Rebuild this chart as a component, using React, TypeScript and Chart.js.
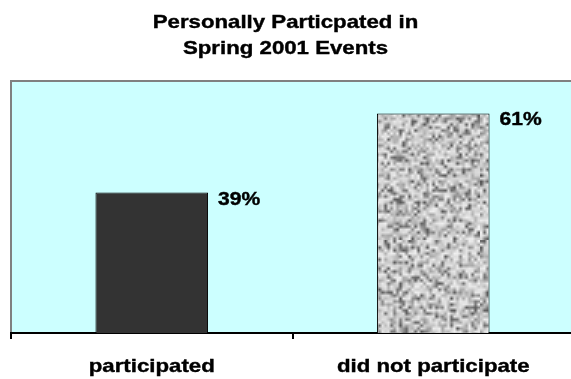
import React, { useEffect, useRef } from "react";
import { Chart, registerables } from "chart.js";

Chart.register(...registerables);

const titleLines = ["Personally Particpated in", "Spring 2001 Events"];
const categories = ["participated", "did not participate"];
const percentValues = [39, 61];
const axisMax = 70;

const FONT_FAMILY = "'Liberation Sans', Arial, sans-serif";
const TEXT_STRETCH = 1.17;

// Small deterministic PRNG so the granite texture looks the same every render.
function mulberry32(a: number) {
  return function () {
    a |= 0;
    a = (a + 0x6d2b79f5) | 0;
    let t = Math.imul(a ^ (a >>> 15), 1 | a);
    t = (t + Math.imul(t ^ (t >>> 7), 61 | t)) ^ t;
    return ((t ^ (t >>> 14)) >>> 0) / 4294967296;
  };
}

function makeGranitePattern(ctx: CanvasRenderingContext2D): CanvasPattern | string {
  const n = 80;
  const k = 3;
  const size = n * k;
  const small = document.createElement("canvas");
  small.width = n;
  small.height = n;
  const sctx = small.getContext("2d");
  if (!sctx) return "#b8b8b8";
  const img = sctx.createImageData(n, n);
  const rnd = mulberry32(20010401);
  for (let i = 0; i < n * n; i++) {
    const r = rnd();
    const v = r < 0.2 ? 85 + rnd() * 65 : r < 0.5 ? 160 + rnd() * 40 : 200 + rnd() * 40;
    img.data[i * 4] = v;
    img.data[i * 4 + 1] = v;
    img.data[i * 4 + 2] = v;
    img.data[i * 4 + 3] = 255;
  }
  sctx.putImageData(img, 0, 0);

  // 3x3 wrapped copies, so the softening below has no seams at tile edges
  const wrap = document.createElement("canvas");
  wrap.width = size * 3;
  wrap.height = size * 3;
  const wctx = wrap.getContext("2d");
  if (!wctx) return "#b8b8b8";
  wctx.imageSmoothingEnabled = true;
  for (let dx = 0; dx < 3; dx++) {
    for (let dy = 0; dy < 3; dy++) {
      wctx.drawImage(small, dx * size, dy * size, size, size);
    }
  }

  const tile = document.createElement("canvas");
  tile.width = size;
  tile.height = size;
  const tctx = tile.getContext("2d");
  if (!tctx) return "#b8b8b8";
  tctx.filter = "blur(0.7px)";
  tctx.drawImage(wrap, -size, -size);
  return ctx.createPattern(tile, "repeat") || "#b8b8b8";
}

function stretchedText(
  ctx: CanvasRenderingContext2D,
  text: string,
  x: number,
  y: number,
  size: number,
  align: CanvasTextAlign
) {
  ctx.save();
  ctx.font = `bold ${size}px ${FONT_FAMILY}`;
  ctx.fillStyle = "#000000";
  ctx.strokeStyle = "#000000";
  ctx.lineWidth = 0.4;
  ctx.textAlign = align;
  ctx.textBaseline = "alphabetic";
  ctx.translate(x, y);
  ctx.scale(TEXT_STRETCH, 1);
  ctx.fillText(text, 0, 0);
  ctx.strokeText(text, 0, 0);
  ctx.restore();
}

const PAGE_W = 571;
const PAGE_H = 379;

const framePlugin = {
  id: "plotFrame",
  beforeDraw(chart: Chart) {
    const { ctx, chartArea: a } = chart;
    ctx.save();
    ctx.fillStyle = "#CCFFFF";
    ctx.fillRect(a.left, a.top, a.right - a.left, a.bottom - a.top);
    ctx.strokeStyle = "#808080";
    ctx.lineWidth = 2;
    ctx.beginPath();
    ctx.moveTo(a.left, a.bottom);
    ctx.lineTo(a.left, a.top);
    ctx.lineTo(a.right, a.top);
    ctx.lineTo(a.right, a.bottom);
    ctx.stroke();
    ctx.restore();
  },
};

const textPlugin = {
  id: "chartTexts",
  afterDraw(chart: Chart) {
    const ctx = chart.ctx;
    // Title
    titleLines.forEach((line, i) => {
      stretchedText(ctx, line, PAGE_W / 2, 28 + i * 26, 19, "center");
    });
    const meta = chart.getDatasetMeta(0);
    const xScale = chart.scales.x;
    meta.data.forEach((el: any, i: number) => {
      const props = el.getProps(["x", "y", "width"], true);
      // value label beside the top of each bar
      stretchedText(
        ctx,
        `${percentValues[i]}%`,
        props.x + props.width / 2 + 10,
        props.y + 12,
        18,
        "left"
      );
      // category label under the axis
      stretchedText(ctx, categories[i], xScale.getPixelForValue(i), 371.5, 19, "center");
    });
  },
};

export default function App() {
  const canvasRef = useRef<HTMLCanvasElement | null>(null);

  useEffect(() => {
    const canvas = canvasRef.current;
    if (!canvas) return;
    const ctx = canvas.getContext("2d");
    if (!ctx) return;
    const granite = makeGranitePattern(ctx);

    const chart = new Chart(canvas, {
      type: "bar",
      data: {
        labels: categories,
        datasets: [
          {
            data: percentValues,
            backgroundColor: ["#333333", granite as any],
            borderColor: "#000000",
            borderWidth: 1,
            categoryPercentage: 1,
            barPercentage: 0.4,
          },
        ],
      },
      options: {
        responsive: false,
        animation: false,
        devicePixelRatio: 1,
        layout: { padding: { top: 81, left: 11, right: 2, bottom: 40 } },
        plugins: {
          legend: { display: false },
          title: { display: false },
          tooltip: { enabled: false },
        },
        scales: {
          x: {
            offset: true,
            border: { display: true, color: "#000000", width: 2 },
            grid: {
              display: true,
              offset: true,
              drawOnChartArea: false,
              drawTicks: true,
              tickLength: 6,
              color: "#000000",
              lineWidth: 2,
            },
            ticks: { display: false },
            afterFit(scale: any) {
              scale.height = 6;
            },
          },
          y: {
            display: false,
            min: 0,
            max: axisMax,
          },
        },
      },
      plugins: [framePlugin, textPlugin],
    });

    return () => chart.destroy();
  }, []);

  return (
    <div
      style={{
        position: "absolute",
        left: 0,
        top: 0,
        width: PAGE_W,
        height: PAGE_H,
        overflow: "hidden",
        background: "#ffffff",
      }}
    >
      <canvas ref={canvasRef} width={576} height={PAGE_H} />
    </div>
  );
}
